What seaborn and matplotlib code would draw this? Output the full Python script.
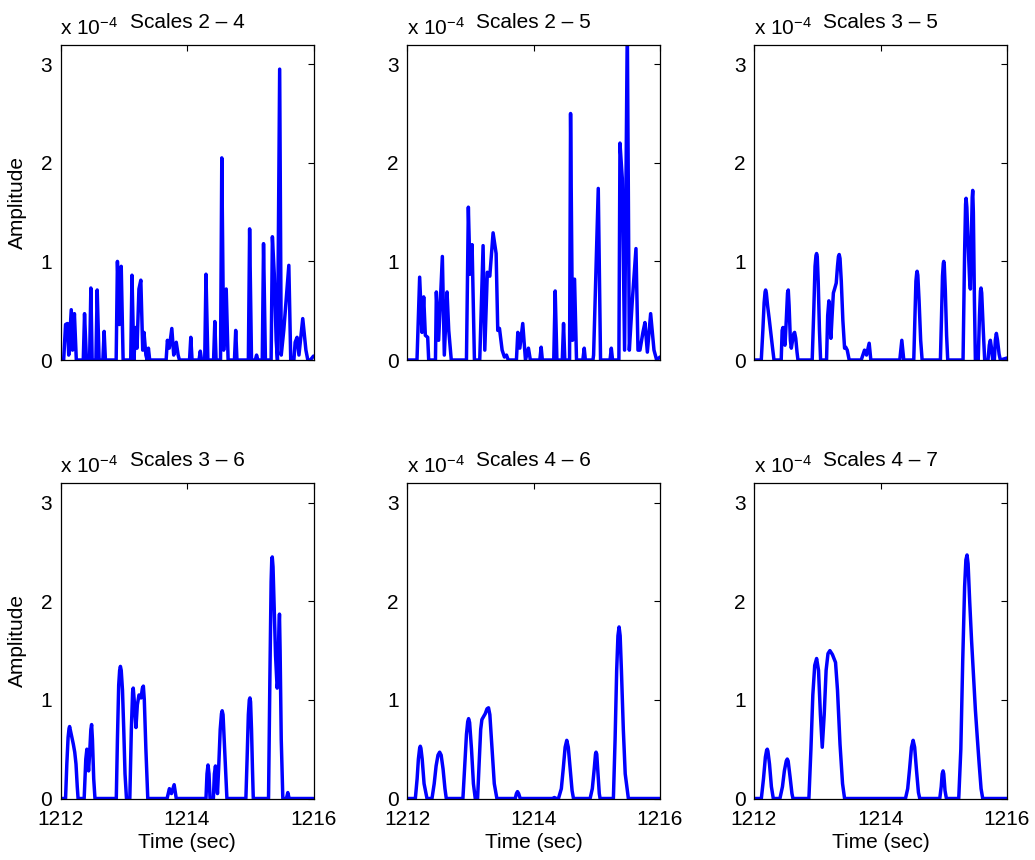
import matplotlib
matplotlib.use("Agg")
import matplotlib.pyplot as plt
import seaborn as sns

sns.set_theme(style="white")
plt.rcParams["font.family"] = ["Liberation Sans", "DejaVu Sans"]
plt.rcParams["mathtext.fontset"] = "custom"
plt.rcParams["mathtext.rm"] = "Liberation Sans"
plt.rcParams["mathtext.it"] = "Liberation Sans:italic"
plt.rcParams["text.color"] = "black"
plt.rcParams["axes.labelcolor"] = "black"
plt.rcParams["xtick.color"] = "black"
plt.rcParams["ytick.color"] = "black"

# Amplitude envelopes (units of 1e-4) for each band of wavelet scales
t1 = [1212.0, 1212.05, 1212.08, 1212.11, 1212.13, 1212.17, 1212.19, 1212.22, 1212.25,
      1212.36, 1212.38, 1212.41,
      1212.46, 1212.48, 1212.50,
      1212.56, 1212.58, 1212.61,
      1212.67, 1212.69, 1212.71,
      1212.88, 1212.90, 1212.93, 1212.96, 1212.99,
      1213.11, 1213.13, 1213.16, 1213.19, 1213.21, 1213.24, 1213.27, 1213.30, 1213.32, 1213.35, 1213.37, 1213.39, 1213.41,
      1213.67, 1213.69, 1213.72, 1213.76, 1213.79, 1213.83, 1213.86, 1213.88,
      1214.04, 1214.06, 1214.08,
      1214.19, 1214.21, 1214.23,
      1214.28, 1214.30, 1214.33,
      1214.42, 1214.44, 1214.46,
      1214.53, 1214.55, 1214.58, 1214.62, 1214.65,
      1214.75, 1214.77, 1214.79,
      1214.97, 1214.99, 1215.02,
      1215.08, 1215.10, 1215.12,
      1215.19, 1215.21, 1215.24,
      1215.33, 1215.35, 1215.38, 1215.41, 1215.43, 1215.465, 1215.49, 1215.53, 1215.61, 1215.64,
      1215.69, 1215.71, 1215.74, 1215.77, 1215.83, 1215.88, 1215.91, 1215.95, 1216.0]
a1 = [0, 0, 0.36, 0.37, 0.05, 0.51, 0.1, 0.47, 0,
      0, 0.47, 0,
      0, 0.73, 0,
      0, 0.71, 0,
      0, 0.29, 0,
      0, 1.0, 0.36, 0.95, 0,
      0, 0.86, 0, 0.33, 0.12, 0.72, 0.81, 0.1, 0.28, 0.05, 0, 0.12, 0,
      0, 0.2, 0.12, 0.32, 0.05, 0.18, 0.05, 0,
      0, 0.23, 0,
      0, 0.09, 0,
      0, 0.87, 0,
      0, 0.39, 0,
      0, 2.05, 0.1, 0.72, 0,
      0, 0.3, 0,
      0, 1.33, 0,
      0, 0.05, 0,
      0, 1.18, 0,
      0, 1.25, 0.87, 0.2, 0, 2.95, 0.05, 0.3, 0.96, 0,
      0, 0.18, 0.23, 0.05, 0.42, 0.1, 0, 0, 0.04]

t2 = [1212.0, 1212.158, 1212.20, 1212.237, 1212.264, 1212.29, 1212.327, 1212.343,
      1212.45, 1212.464, 1212.50, 1212.559, 1212.59, 1212.633, 1212.66, 1212.70,
      1212.94, 1212.97, 1212.997, 1213.029, 1213.066,
      1213.15, 1213.203, 1213.23, 1213.27, 1213.309, 1213.361, 1213.409, 1213.435, 1213.462, 1213.504, 1213.54, 1213.573, 1213.60,
      1213.73, 1213.752, 1213.784, 1213.83, 1213.873, 1213.92, 1213.95,
      1214.10, 1214.121, 1214.14,
      1214.32, 1214.343, 1214.37,
      1214.455, 1214.475, 1214.495,
      1214.57, 1214.586, 1214.617, 1214.649, 1214.68,
      1214.78, 1214.802, 1214.82,
      1214.94, 1214.95, 1215.024, 1215.06,
      1215.21, 1215.23, 1215.25,
      1215.35, 1215.367, 1215.404, 1215.44, 1215.483, 1215.515, 1215.562, 1215.62, 1215.652, 1215.683,
      1215.73, 1215.762, 1215.80, 1215.852, 1215.905, 1215.947, 1216.0]
a2 = [0, 0, 0.84, 0.28, 0.64, 0.25, 0.23, 0,
      0, 0.69, 0.2, 1.05, 0.05, 0.69, 0.3, 0,
      0, 1.55, 0.87, 1.17, 0,
      0, 1.16, 0.1, 0.89, 0.85, 1.29, 1.08, 0.3, 0.32, 0.1, 0.03, 0.05, 0,
      0, 0.28, 0.12, 0.37, 0, 0.12, 0,
      0, 0.13, 0,
      0, 0.7, 0,
      0, 0.37, 0,
      0, 2.5, 0.2, 0.82, 0,
      0, 0.12, 0,
      0, 0.05, 1.74, 0,
      0, 0.12, 0,
      0, 2.2, 1.84, 0.1, 3.4, 0.1, 0.6, 1.13, 0.1, 0.1,
      0.28, 0.38, 0.08, 0.47, 0.1, 0, 0.03]

t3 = [1212.0, 1212.115, 1212.14, 1212.16, 1212.175, 1212.184, 1212.195, 1212.215, 1212.24, 1212.265, 1212.29, 1212.316,
      1212.43, 1212.445, 1212.458, 1212.475, 1212.49, 1212.51, 1212.53, 1212.542, 1212.555, 1212.575, 1212.59,
      1212.61, 1212.63, 1212.642, 1212.66, 1212.68, 1212.695,
      1212.92, 1212.945, 1212.965, 1212.98, 1212.99, 1213.0, 1213.015, 1213.035, 1213.053,
      1213.147, 1213.165, 1213.184, 1213.20, 1213.216, 1213.235, 1213.255, 1213.274, 1213.30, 1213.32,
      1213.335, 1213.347, 1213.36, 1213.38, 1213.405, 1213.432, 1213.45, 1213.474, 1213.505,
      1213.695, 1213.747, 1213.779, 1213.821, 1213.847,
      1214.305, 1214.337, 1214.368,
      1214.526, 1214.545, 1214.56, 1214.572, 1214.579, 1214.59, 1214.61, 1214.635, 1214.658,
      1214.947, 1214.965, 1214.98, 1214.993, 1215.0, 1215.008, 1215.025, 1215.045, 1215.063,
      1215.305, 1215.33, 1215.345, 1215.353, 1215.365, 1215.39, 1215.41, 1215.421, 1215.435, 1215.45,
      1215.458, 1215.468, 1215.485, 1215.50,
      1215.545, 1215.565, 1215.58, 1215.589, 1215.60, 1215.625, 1215.647,
      1215.70, 1215.72, 1215.737, 1215.755, 1215.774, 1215.80, 1215.815, 1215.832, 1215.85, 1215.875, 1215.895, 1216.0]
a3 = [0, 0, 0.3, 0.58, 0.69, 0.71, 0.68, 0.55, 0.42, 0.28, 0.14, 0,
      0, 0.3, 0.33, 0.2, 0.15, 0.4, 0.68, 0.71, 0.55, 0.2, 0.12,
      0.2, 0.27, 0.28, 0.22, 0.08, 0,
      0, 0.5, 0.95, 1.06, 1.08, 1.05, 0.8, 0.3, 0,
      0, 0.45, 0.6, 0.4, 0.22, 0.45, 0.68, 0.72, 0.78, 0.95,
      1.05, 1.07, 1.03, 0.8, 0.4, 0.12, 0.13, 0.1, 0,
      0, 0.1, 0.05, 0.17, 0,
      0, 0.2, 0,
      0, 0.45, 0.8, 0.88, 0.9, 0.86, 0.6, 0.2, 0,
      0, 0.45, 0.85, 0.98, 1.0, 0.97, 0.7, 0.25, 0,
      0, 1.1, 1.58, 1.64, 1.55, 1.1, 0.8, 0.72, 1.2, 1.65,
      1.72, 1.5, 0.6, 0,
      0, 0.45, 0.7, 0.73, 0.68, 0.3, 0,
      0, 0.15, 0.2, 0.12, 0, 0, 0.2, 0.27, 0.2, 0.06, 0, 0.02]

t4 = [1212.0, 1212.08, 1212.10, 1212.12, 1212.135, 1212.144, 1212.16, 1212.18, 1212.203, 1212.225, 1212.245, 1212.265, 1212.278,
      1212.374, 1212.40, 1212.417, 1212.43, 1212.444, 1212.46, 1212.48, 1212.492, 1212.505, 1212.525, 1212.545,
      1212.882, 1212.90, 1212.92, 1212.935, 1212.947, 1212.96, 1212.98, 1213.0, 1213.02, 1213.043,
      1213.096, 1213.12, 1213.14, 1213.15, 1213.165, 1213.193, 1213.215, 1213.241, 1213.273, 1213.295, 1213.31,
      1213.325, 1213.35, 1213.38,
      1213.685, 1213.722, 1213.754, 1213.797, 1213.83,
      1214.30, 1214.316, 1214.332, 1214.348, 1214.364, 1214.417, 1214.433, 1214.45, 1214.466, 1214.482, 1214.50,
      1214.525, 1214.545, 1214.556, 1214.57, 1214.595, 1214.631,
      1214.931, 1214.95, 1214.97, 1214.985, 1214.995, 1215.005, 1215.02, 1215.035, 1215.048,
      1215.289, 1215.31, 1215.33, 1215.34, 1215.348, 1215.36, 1215.38, 1215.40, 1215.425, 1215.44, 1215.452,
      1215.462, 1215.472, 1215.49, 1215.515,
      1215.572, 1215.594, 1215.615, 1216.0]
a4 = [0, 0, 0.35, 0.62, 0.71, 0.73, 0.68, 0.62, 0.55, 0.47, 0.35, 0.12, 0,
      0, 0.4, 0.5, 0.4, 0.28, 0.45, 0.7, 0.75, 0.6, 0.2, 0,
      0, 0.6, 1.15, 1.3, 1.34, 1.3, 1.1, 0.7, 0.25, 0,
      0, 0.7, 1.08, 1.12, 1.0, 0.72, 0.95, 1.05, 1.02, 1.12, 1.14,
      1.0, 0.5, 0,
      0, 0.1, 0.05, 0.14, 0,
      0, 0.25, 0.34, 0.25, 0, 0, 0.25, 0.33, 0.2, 0.05, 0.3,
      0.7, 0.86, 0.89, 0.85, 0.5, 0,
      0, 0.4, 0.85, 1.0, 1.02, 0.98, 0.7, 0.3, 0,
      0, 1.2, 2.2, 2.42, 2.45, 2.35, 1.9, 1.45, 1.12, 1.2, 1.7,
      1.87, 1.5, 0.6, 0,
      0, 0.06, 0, 0]

t5 = [1212.0, 1212.132, 1212.16, 1212.18, 1212.20, 1212.21, 1212.22, 1212.24, 1212.27, 1212.316,
      1212.395, 1212.43, 1212.46, 1212.49, 1212.516, 1212.54, 1212.57, 1212.60, 1212.621,
      1212.884, 1212.91, 1212.94, 1212.96, 1212.974, 1212.99, 1213.02, 1213.05, 1213.079,
      1213.116, 1213.14, 1213.165, 1213.184, 1213.21, 1213.237, 1213.265, 1213.289, 1213.31, 1213.34, 1213.38, 1213.421,
      1213.711, 1213.73, 1213.747, 1213.765, 1213.79,
      1214.30, 1214.33, 1214.36,
      1214.395, 1214.44, 1214.47, 1214.50, 1214.526, 1214.55, 1214.58, 1214.61, 1214.632,
      1214.895, 1214.93, 1214.96, 1214.98, 1214.989, 1215.0, 1215.02, 1215.04, 1215.053,
      1215.263, 1215.29, 1215.315, 1215.335, 1215.353, 1215.37, 1215.39, 1215.42, 1215.45, 1215.50, 1216.0]
a5 = [0, 0, 0.2, 0.4, 0.51, 0.53, 0.51, 0.4, 0.15, 0,
      0, 0.15, 0.33, 0.44, 0.47, 0.44, 0.3, 0.1, 0,
      0, 0.3, 0.65, 0.78, 0.81, 0.77, 0.5, 0.15, 0,
      0, 0.35, 0.7, 0.8, 0.83, 0.86, 0.91, 0.92, 0.85, 0.55, 0.15, 0,
      0, 0.05, 0.07, 0.05, 0,
      0, 0.01, 0,
      0, 0.1, 0.3, 0.52, 0.59, 0.52, 0.3, 0.08, 0,
      0, 0.1, 0.3, 0.45, 0.47, 0.45, 0.25, 0.05, 0,
      0, 0.6, 1.3, 1.65, 1.74, 1.65, 1.3, 0.7, 0.25, 0, 0]

t6 = [1212.0, 1212.116, 1212.15, 1212.18, 1212.20, 1212.21, 1212.22, 1212.245, 1212.275, 1212.305,
      1212.41, 1212.45, 1212.48, 1212.51, 1212.526, 1212.54, 1212.57, 1212.60, 1212.616,
      1212.868, 1212.90, 1212.93, 1212.96, 1212.99, 1213.02, 1213.05, 1213.079, 1213.11, 1213.14, 1213.17,
      1213.20, 1213.24, 1213.289, 1213.32, 1213.36, 1213.40, 1213.432,
      1214.395, 1214.43, 1214.46, 1214.49, 1214.516, 1214.54, 1214.57, 1214.60, 1214.621,
      1214.937, 1214.96, 1214.975, 1214.989, 1215.0, 1215.02, 1215.042,
      1215.237, 1215.27, 1215.30, 1215.33, 1215.35, 1215.368, 1215.385, 1215.41, 1215.44, 1215.47, 1215.50,
      1215.53, 1215.56, 1215.59, 1215.616, 1216.0]
a6 = [0, 0, 0.2, 0.42, 0.49, 0.5, 0.48, 0.35, 0.12, 0,
      0, 0.12, 0.28, 0.38, 0.4, 0.38, 0.22, 0.05, 0,
      0, 0.5, 1.05, 1.35, 1.42, 1.3, 0.85, 0.52, 0.85, 1.3, 1.47,
      1.5, 1.46, 1.38, 1.1, 0.55, 0.15, 0,
      0, 0.1, 0.3, 0.52, 0.59, 0.52, 0.28, 0.06, 0,
      0, 0.12, 0.25, 0.28, 0.25, 0.08, 0,
      0, 0.5, 1.4, 2.15, 2.42, 2.47, 2.38, 2.0, 1.6, 1.25, 0.9,
      0.62, 0.35, 0.1, 0, 0]

titles = ["Scales 2 \u2013 4", "Scales 2 \u2013 5", "Scales 3 \u2013 5",
          "Scales 3 \u2013 6", "Scales 4 \u2013 6", "Scales 4 \u2013 7"]
times = [t1, t2, t3, t4, t5, t6]
amps = [a1, a2, a3, a4, a5, a6]

x_ticks = [1212, 1214, 1216]
y_ticks = [0, 1, 2, 3]

W, H = 1035, 860
fig = plt.figure(figsize=(W / 100, H / 100), dpi=100)
fig.patch.set_facecolor("white")

lefts = [60.5, 407, 754]
tops = [44.5, 483]
aw, ah = 253, 315.5

FS = 15
for i in range(6):
    r, c = divmod(i, 3)
    ax = fig.add_axes([lefts[c] / W, 1 - (tops[r] + ah) / H, aw / W, ah / H])
    sns.lineplot(x=times[i], y=amps[i], ax=ax, color="#0000ff", linewidth=2.5,
                 sort=False, estimator=None)
    ax.set_xlim(1212, 1216)
    ax.set_ylim(0, 3.2)
    ax.set_xticks(x_ticks)
    ax.set_yticks(y_ticks)
    ax.set_facecolor("white")
    for s in ax.spines.values():
        s.set_color("black")
        s.set_linewidth(0.9)
    ax.tick_params(direction="in", top=True, right=True, length=4, width=0.8,
                   labelsize=FS, colors="black", pad=6)
    ax.tick_params(axis="x", pad=8)
    if r == 0:
        ax.tick_params(axis="x", labelbottom=False)
    else:
        ax.set_xlabel("Time (sec)", fontsize=FS, labelpad=3, color="black")
    if c == 0:
        ax.set_ylabel("Amplitude", fontsize=FS, labelpad=10, color="black")
    ax.set_title(titles[i], fontsize=FS, pad=12, color="black")
    ax.annotate(r"x 10$^{\mathrm{-4}}$", xy=(0, 1), xycoords="axes fraction",
                xytext=(0, 7), textcoords="offset points", ha="left",
                va="baseline", fontsize=FS, color="black")

fig.savefig("out.png", dpi=100)
